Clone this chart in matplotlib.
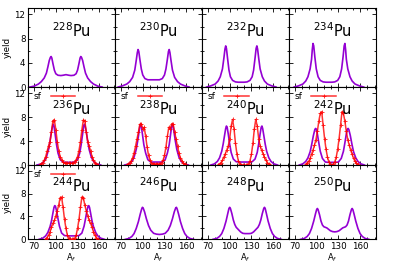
import matplotlib
matplotlib.use('Agg')  # so salva arquivo
import matplotlib.pyplot as plt
from matplotlib.ticker import MultipleLocator

# curvas teoricas, A_f e yield
a228 = [64, 70, 76, 80, 84, 87, 89, 91, 92.5, 93.5, 94.5, 96, 98, 100, 103, 107, 110,
        114, 118, 121, 125, 128, 130, 132, 133.5, 134.5, 135.5, 137, 139, 141, 144, 148, 152, 158, 164]
y228 = [0.0, 0.15, 0.5, 0.9, 1.5, 2.3, 3.3, 4.4, 4.9, 5.05, 4.8, 3.9, 2.8, 2.2, 1.95, 1.9, 1.95,
        2.05, 1.95, 1.9, 1.95, 2.2, 2.8, 3.9, 4.8, 5.05, 4.9, 4.4, 3.3, 2.3, 1.5, 0.9, 0.5, 0.15, 0.0]

a230 = [66, 72, 78, 82, 86, 89, 91, 92.5, 93.5, 94.5, 96, 98, 100, 103, 107, 111,
        115, 119, 123, 127, 130, 132, 134, 135.5, 136.5, 137.5, 139, 141, 144, 148, 152, 158, 164]
y230 = [0.0, 0.2, 0.5, 0.9, 1.6, 2.8, 4.4, 5.7, 6.2, 5.9, 4.6, 3.0, 2.0, 1.4, 1.2, 1.2,
        1.2, 1.2, 1.2, 1.4, 2.0, 3.0, 4.6, 5.9, 6.2, 5.7, 4.4, 2.8, 1.6, 0.9, 0.5, 0.2, 0.0]

a232 = [68, 74, 80, 84, 87, 90, 92, 93.5, 94.5, 95.5, 97, 99, 101, 104, 108, 112,
        116, 120, 124, 128, 131, 133, 135, 136.5, 137.5, 138.5, 140, 142, 145, 148, 152, 158, 164]
y232 = [0.0, 0.2, 0.5, 1.0, 1.7, 3.0, 4.8, 6.3, 6.8, 6.4, 4.8, 2.8, 1.7, 1.1, 0.85, 0.8,
        0.8, 0.8, 0.85, 1.1, 1.7, 2.8, 4.8, 6.4, 6.8, 6.3, 4.8, 3.0, 1.7, 1.0, 0.5, 0.2, 0.0]

a234 = [69, 75, 81, 85, 88, 91, 93, 94, 95, 96, 97.5, 99.5, 102, 105, 109, 113,
        117, 121, 125, 129, 132, 134.5, 136.5, 138, 139, 140, 141, 143, 146, 149, 153, 159, 165]
y234 = [0.0, 0.2, 0.5, 1.0, 1.7, 3.0, 4.6, 6.2, 7.2, 6.8, 5.0, 3.0, 1.7, 1.1, 0.85, 0.8,
        0.8, 0.8, 0.85, 1.1, 1.7, 3.0, 5.0, 6.8, 7.2, 6.2, 4.6, 3.0, 1.7, 1.0, 0.5, 0.2, 0.0]

a236 = [74, 80, 84, 87, 90, 92, 94, 95.5, 96.5, 97.5, 99, 101, 103, 106, 110, 114,
        118, 122, 126, 130, 133, 135, 137, 138.5, 139.5, 140.5, 142, 144, 146, 149, 152, 156, 162]
y236 = [0.0, 0.2, 0.6, 1.3, 2.6, 4.0, 5.6, 6.5, 6.8, 6.5, 5.2, 3.4, 2.0, 0.9, 0.5, 0.45,
        0.45, 0.45, 0.5, 0.9, 2.0, 3.4, 5.2, 6.5, 6.8, 6.5, 5.6, 4.0, 2.6, 1.3, 0.6, 0.2, 0.0]

a238 = [75, 81, 85, 88, 91, 93, 95, 96, 97, 98, 99.5, 101.5, 104, 107, 111, 115,
        119, 123, 127, 131, 134, 136.5, 138.5, 140, 141, 142, 143, 145, 147, 150, 153, 157, 163]
y238 = [0.0, 0.2, 0.6, 1.3, 2.6, 4.0, 5.6, 6.5, 6.8, 6.5, 5.2, 3.4, 2.0, 0.9, 0.5, 0.5,
        0.5, 0.5, 0.5, 0.9, 2.0, 3.4, 5.2, 6.5, 6.8, 6.5, 5.6, 4.0, 2.6, 1.3, 0.6, 0.2, 0.0]

a240 = [74, 79, 83, 86, 89, 91, 93, 94.5, 95.5, 96.5, 98, 100, 102, 105, 109, 114,
        120, 126, 131, 135, 138, 140, 142, 143.5, 144.5, 145.5, 147, 149, 151, 154, 157, 161, 166]
y240 = [0.0, 0.2, 0.6, 1.2, 2.3, 3.5, 5.0, 6.1, 6.5, 6.3, 5.2, 3.5, 2.1, 1.0, 0.55, 0.5,
        0.5, 0.5, 0.55, 1.0, 2.1, 3.5, 5.2, 6.3, 6.5, 6.1, 5.0, 3.5, 2.3, 1.2, 0.6, 0.2, 0.0]

a242 = [76, 81, 85, 88, 91, 93, 95.5, 97.5, 98.5, 99.5, 101, 103, 105, 108, 112, 116,
        121, 126, 130, 134, 137, 139, 141, 142.5, 143.5, 144.5, 146.5, 149, 151, 154, 157, 161, 166]
y242 = [0.0, 0.2, 0.6, 1.2, 2.2, 3.3, 4.9, 5.9, 6.1, 6.0, 5.2, 3.7, 2.3, 1.1, 0.5, 0.45,
        0.45, 0.45, 0.5, 1.1, 2.3, 3.7, 5.2, 6.0, 6.1, 5.9, 4.9, 3.3, 2.2, 1.2, 0.6, 0.2, 0.0]

a244 = [77, 82, 86, 89, 92, 94, 96, 97.5, 98.5, 99.5, 101, 103, 105, 108, 112, 117,
        122, 127, 132, 136, 139, 141, 143, 144.5, 145.5, 146.5, 148, 150, 152, 155, 158, 162, 167]
y244 = [0.0, 0.2, 0.6, 1.2, 2.2, 3.2, 4.6, 5.6, 5.9, 5.8, 5.0, 3.6, 2.3, 1.1, 0.65, 0.6,
        0.6, 0.6, 0.65, 1.1, 2.3, 3.6, 5.0, 5.8, 5.9, 5.6, 4.6, 3.2, 2.2, 1.2, 0.6, 0.2, 0.0]

a246 = [76, 81, 85, 88, 91, 94, 96.5, 98.5, 99.5, 100.5, 102.5, 105, 108, 111, 115, 119,
        123, 127, 131, 135, 138, 141, 143.5, 145.5, 146.5, 147.5, 149.5, 152, 155, 158, 161, 165, 170]
y246 = [0.0, 0.15, 0.5, 1.0, 1.9, 3.1, 4.4, 5.3, 5.6, 5.5, 4.8, 3.6, 2.4, 1.6, 1.05, 0.9,
        0.85, 0.9, 1.05, 1.6, 2.4, 3.6, 4.8, 5.5, 5.6, 5.3, 4.4, 3.1, 1.9, 1.0, 0.5, 0.15, 0.0]

a248 = [77, 82, 86, 89, 92, 95, 97.5, 99, 100, 101, 103, 105, 107, 109, 112, 115, 118, 121,
        124, 127, 130, 133, 136, 139, 141, 143, 145, 147, 148, 149, 150.5, 153, 156, 159, 162, 166, 171]
y248 = [0.0, 0.15, 0.5, 1.0, 1.9, 3.2, 4.6, 5.4, 5.6, 5.4, 4.5, 3.4, 2.6, 2.1, 1.7, 1.3, 1.05, 1.0,
        1.0, 1.0, 1.05, 1.3, 1.7, 2.1, 2.6, 3.4, 4.5, 5.4, 5.6, 5.4, 4.6, 3.2, 1.9, 1.0, 0.5, 0.15, 0.0]

a250 = [78, 83, 87, 90, 93, 96, 98.5, 100, 101, 102, 104, 106, 108, 110, 112, 114, 116, 119, 122,
        125, 128, 131, 134, 136, 138, 140, 142, 144, 146, 148, 149, 150, 151.5, 154, 157, 160, 163, 167, 172]
y250 = [0.0, 0.15, 0.5, 1.0, 1.9, 3.2, 4.5, 5.2, 5.4, 5.2, 4.3, 3.2, 2.5, 2.2, 2.1, 2.0, 1.8, 1.5, 1.35,
        1.3, 1.35, 1.5, 1.8, 2.0, 2.1, 2.2, 2.5, 3.2, 4.3, 5.2, 5.4, 5.2, 4.5, 3.2, 1.9, 1.0, 0.5, 0.15, 0.0]

# dados experimentais de fissao espontanea (sf)
sf236_a = [78, 80, 82, 84, 86, 88, 90, 92, 94, 96, 98, 100, 102, 104, 106, 108, 110, 112, 114, 116, 118,
           120, 122, 124, 126, 128, 130, 132, 134, 136, 138, 140, 142, 144, 146, 148, 150, 152, 154, 156, 158]
sf236_y = [0.05, 0.2, 0.4, 0.8, 1.4, 2.3, 3.2, 3.9, 5.5, 7.4, 7.5, 5.9, 3.9, 2.4, 1.4, 0.9, 0.5, 0.35, 0.3, 0.3, 0.3,
           0.3, 0.3, 0.35, 0.5, 0.9, 1.4, 2.4, 3.9, 5.9, 7.5, 7.4, 5.5, 3.9, 3.2, 2.3, 1.4, 0.8, 0.4, 0.2, 0.05]

sf238_a = [78, 80, 82, 84, 86, 88, 90, 92, 94, 96, 98, 100, 102, 104, 106, 108, 110, 112, 114, 116, 118,
           120, 122, 124, 126, 128, 130, 132, 134, 136, 138, 140, 142, 144, 146, 148, 150, 152, 154, 156, 158, 160]
sf238_y = [0.05, 0.15, 0.35, 0.7, 1.2, 2.0, 3.1, 4.3, 5.5, 6.8, 6.9, 6.0, 6.3, 4.8, 3.0, 1.6, 0.8, 0.4, 0.25, 0.2, 0.2,
           0.2, 0.2, 0.25, 0.4, 0.8, 1.6, 3.0, 4.8, 6.3, 6.0, 6.9, 6.8, 5.5, 4.3, 3.1, 2.0, 1.2, 0.7, 0.35, 0.15, 0.05]

sf240_a = [84, 86, 88, 90, 92, 94, 96, 98, 100, 102, 104, 106, 108, 110, 112, 114, 116, 118, 120,
           122, 124, 126, 128, 130, 132, 134, 136, 138, 140, 142, 144, 146, 148, 150, 152, 154, 156]
sf240_y = [0.05, 0.2, 0.4, 0.8, 1.3, 1.9, 2.5, 3.2, 4.4, 6.5, 7.6, 6.0, 3.6, 1.8, 0.7, 0.2, 0.05, 0.0, 0.0,
           0.0, 0.05, 0.2, 0.7, 1.8, 3.6, 6.0, 7.6, 6.5, 4.4, 3.2, 2.5, 1.9, 1.3, 0.8, 0.4, 0.2, 0.05]

sf242_a = [85, 87, 89, 91, 93, 95, 97, 99, 101, 103, 105, 107, 109, 111, 113, 115, 117, 119, 121,
           123, 125, 127, 129, 131, 133, 135, 137, 139, 141, 143, 145, 147, 149, 151, 153, 155, 157]
sf242_y = [0.1, 0.3, 0.6, 1.1, 1.8, 2.5, 3.3, 4.2, 5.6, 7.3, 8.6, 8.9, 6.6, 4.4, 2.6, 1.3, 0.5, 0.1, 0.0,
           0.1, 0.5, 1.3, 2.6, 4.4, 6.6, 8.9, 8.6, 7.3, 5.6, 4.2, 3.3, 2.5, 1.8, 1.1, 0.6, 0.3, 0.1]

sf244_a = [86, 88, 90, 92, 94, 96, 98, 100, 102, 104, 106, 108, 110, 112, 114, 116, 118, 120, 122,
           124, 126, 128, 130, 132, 134, 136, 138, 140, 142, 144, 146, 148, 150, 152, 154, 156, 158]
sf244_y = [0.1, 0.3, 0.7, 1.3, 2.1, 2.8, 3.3, 4.1, 5.0, 6.0, 7.3, 7.4, 5.6, 3.5, 1.9, 0.7, 0.15, 0.0, 0.0,
           0.0, 0.15, 0.7, 1.9, 3.5, 5.6, 7.4, 7.3, 6.0, 5.0, 4.1, 3.3, 2.8, 2.1, 1.3, 0.7, 0.3, 0.1]

masses = [228, 230, 232, 234, 236, 238, 240, 242, 244, 246, 248, 250]
theory = {228: (a228, y228), 230: (a230, y230), 232: (a232, y232), 234: (a234, y234),
          236: (a236, y236), 238: (a238, y238), 240: (a240, y240), 242: (a242, y242),
          244: (a244, y244), 246: (a246, y246), 248: (a248, y248), 250: (a250, y250)}
sf_data = {236: (sf236_a, sf236_y), 238: (sf238_a, sf238_y), 240: (sf240_a, sf240_y),
           242: (sf242_a, sf242_y), 244: (sf244_a, sf244_y)}

x_ticks = [70, 100, 130, 160]
y_ticks = [0, 4, 8, 12]

PURPLE = '#9400d3'
RED = '#ff0000'
TICK_FONT = ['Liberation Sans Narrow', 'DejaVu Sans']

fig = plt.figure(figsize=(3.95, 2.62), dpi=100)
gs = fig.add_gridspec(3, 4, left=0.0716, right=0.952, top=0.968, bottom=0.0866,
                      hspace=0, wspace=0, height_ratios=[78.7, 78, 74.3])

for i, m in enumerate(masses):
    row, col = divmod(i, 4)
    ax = fig.add_subplot(gs[row, col])

    a, y = theory[m]
    ax.plot(a, y, color=PURPLE, lw=1.2, zorder=2)

    # dados sf so existem para 236-244
    if m in sf_data:
        sa, sy = sf_data[m]
        ax.plot(sa, sy, color=RED, lw=1.1, alpha=0.8, marker='+', ms=3, mew=0.7,
                mec=RED, label='sf', zorder=3)
        ax.legend(loc='upper left', frameon=False, markerfirst=False, numpoints=1,
                  handlelength=2.7, handletextpad=1.0, borderaxespad=0.1, borderpad=0.5,
                  prop={'family': TICK_FONT, 'size': 6.5})

    ax.text(0.5, 0.72, rf'$^{{{m}}}$Pu', transform=ax.transAxes, ha='center',
            va='center', fontsize=10.5)

    ax.set_xlim(62, 182)
    ax.set_ylim(0, 13)
    ax.set_xticks(x_ticks)
    ax.set_yticks(y_ticks)
    ax.xaxis.set_minor_locator(MultipleLocator(10))
    ax.yaxis.set_minor_locator(MultipleLocator(2))
    ax.tick_params(which='both', direction='in', top=True, right=True, width=0.6)
    ax.tick_params(which='major', length=3, labelsize=6.3, pad=2)
    ax.tick_params(which='minor', length=1.5)
    for s in ax.spines.values():
        s.set_linewidth(0.8)

    if col == 0:
        ax.set_ylabel('yield', fontsize=6.3, family=TICK_FONT, labelpad=2)
    else:
        ax.set_yticklabels([])
    if row == 2:
        ax.set_xlabel('A$_f$', fontsize=6, labelpad=0)
    else:
        ax.set_xticklabels([])
    for lab in ax.get_xticklabels() + ax.get_yticklabels():
        lab.set_family(TICK_FONT)

fig.savefig('out.png', dpi=100)
